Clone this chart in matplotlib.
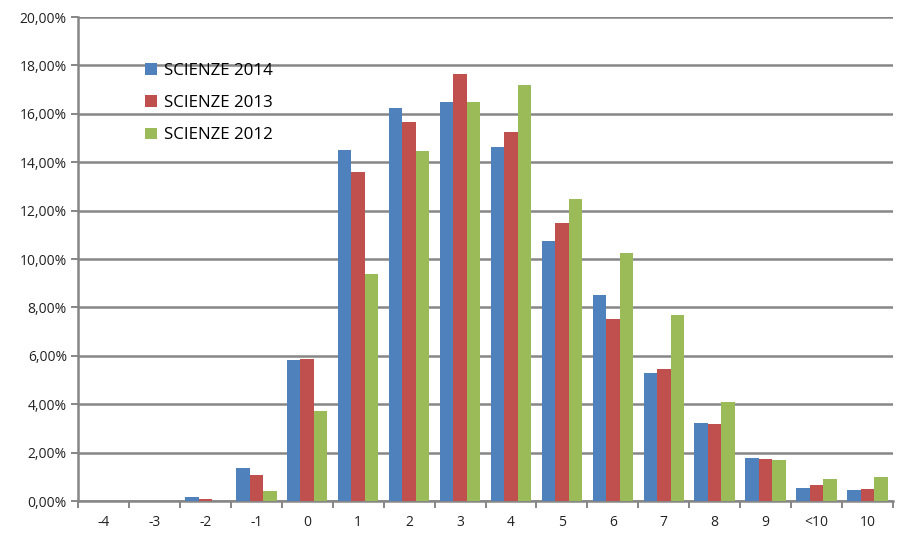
import matplotlib.pyplot as plt
import numpy as np
from matplotlib.ticker import FuncFormatter, MultipleLocator

plt.rcParams['font.family'] = ['Open Sans', 'DejaVu Sans']

categories = ['-4', '-3', '-2', '-1', '0', '1', '2', '3', '4', '5', '6', '7', '8', '9', '<10', '10']
scienze_2014 = [0, 0, 0.15, 1.36, 5.81, 14.50, 16.24, 16.50, 14.64, 10.74, 8.50, 5.30, 3.24, 1.79, 0.55, 0.45]
scienze_2013 = [0, 0, 0.08, 1.07, 5.88, 13.60, 15.66, 17.66, 15.25, 11.50, 7.51, 5.44, 3.18, 1.72, 0.65, 0.50]
scienze_2012 = [0, 0, 0, 0.41, 3.72, 9.37, 14.46, 16.50, 17.19, 12.49, 10.25, 7.67, 4.08, 1.69, 0.91, 0.99]
series_names = ['SCIENZE 2014', 'SCIENZE 2013', 'SCIENZE 2012']
colors = ['#4F81BD', '#C0504D', '#9BBB59']

fig = plt.figure(figsize=(8.97, 5.33), dpi=100, facecolor='w')
ax = fig.add_axes([0.087, 0.060, 0.9085, 0.908])

x = np.arange(len(categories))
w = 0.265
for i, (vals, name, c) in enumerate(zip([scienze_2014, scienze_2013, scienze_2012], series_names, colors)):
    ax.bar(x + (i - 1) * w, vals, width=w, color=c, label=name, zorder=3)

ax.set_xlim(-0.5, len(categories) - 0.5)
ax.set_ylim(0, 20)
ax.yaxis.set_major_locator(MultipleLocator(2))
ax.yaxis.set_major_formatter(FuncFormatter(lambda v, p: ('%.2f%%' % v).replace('.', ',')))
ax.grid(axis='y', color='#868686', linewidth=1.8, zorder=0)

ax.set_xticks(x)
ax.set_xticklabels(categories)
ax.set_xticks(np.arange(-0.5, len(categories)), minor=True)
ax.tick_params(axis='x', which='major', length=0, pad=10, labelsize=10, labelcolor='#222222')
ax.tick_params(axis='x', which='minor', length=5, width=1.4, color='#868686')
ax.tick_params(axis='y', length=5, width=1.4, color='#868686', labelsize=10, labelcolor='#222222', pad=3)

for s in ['top', 'right']:
    ax.spines[s].set_visible(False)
for s in ['left', 'bottom']:
    ax.spines[s].set_color('#868686')
    ax.spines[s].set_linewidth(1.8)

ax.legend(loc='upper left', bbox_to_anchor=(0.064, 0.937), frameon=False, fontsize=12.2,
          handlelength=0.68, handleheight=0.68, handletextpad=0.4, labelspacing=0.96)

fig.savefig('out.png', dpi=100)
